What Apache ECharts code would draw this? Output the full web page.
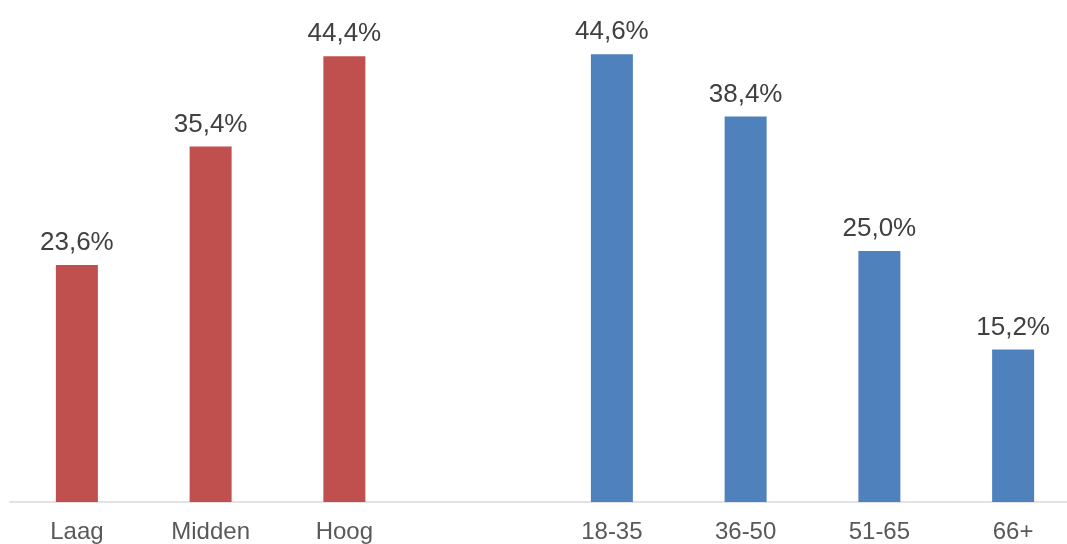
<!DOCTYPE html>
<html>
<head>
<meta charset="utf-8">
<script src="https://cdn.jsdelivr.net/npm/echarts@6/dist/echarts.min.js"></script>
<style>
html,body{margin:0;padding:0;background:#fff;overflow:hidden;width:1067px;height:544px;}
#c{width:1080px;height:544px;}
</style>
</head>
<body>
<div id="c"></div>
<script>
var categories = ['Laag', 'Midden', 'Hoog', '', '18-35', '36-50', '51-65', '66+'];
var educationValues = [23.6, 35.4, 44.4, null, null, null, null, null];
var ageValues = [null, null, null, null, 44.6, 38.4, 25.0, 15.2];

var chart = echarts.init(document.getElementById('c'), null, {renderer: 'canvas'});
var fontFamily = '"Liberation Sans", Arial, sans-serif';
function fmt(p) {
  return p.value.toFixed(1).replace('.', ',') + '%';
}
var labelStyle = {
  show: true,
  position: 'top',
  distance: 9,
  formatter: fmt,
  color: '#404040',
  fontSize: 26,
  fontFamily: fontFamily
};
chart.setOption({
  animation: false,
  grid: {left: 10, right: 0, top: 0, bottom: 40, containLabel: false},
  xAxis: {
    type: 'category',
    data: categories,
    axisLine: {show: true, lineStyle: {color: '#D9D9D9', width: 1.5}},
    axisTick: {show: false},
    axisLabel: {color: '#595959', fontSize: 24, fontFamily: fontFamily, margin: 18, interval: 0}
  },
  yAxis: {
    type: 'value', min: 0, max: 50, show: false, splitLine: {show: false}
  },
  series: [
    {
      type: 'bar', stack: 'all', data: educationValues, barWidth: 42,
      itemStyle: {color: '#C0504D'}, label: labelStyle
    },
    {
      type: 'bar', stack: 'all', data: ageValues, barWidth: 42,
      itemStyle: {color: '#4F81BD'}, label: labelStyle
    }
  ]
});
</script>
</body>
</html>
